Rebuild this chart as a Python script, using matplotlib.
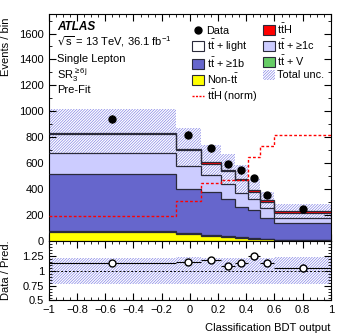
import matplotlib
matplotlib.use('Agg')
import matplotlib.pyplot as plt
import numpy as np
from matplotlib.patches import Patch
from matplotlib.lines import Line2D
from matplotlib.ticker import MultipleLocator, FuncFormatter

plt.rcParams['font.family'] = ['Liberation Sans', 'DejaVu Sans']
plt.rcParams['font.size'] = 8
plt.rcParams['hatch.linewidth'] = 0.45
plt.rcParams['mathtext.default'] = 'regular'

# BDT bin edges
edges = [-1.0, -0.1, 0.08, 0.22, 0.32, 0.41, 0.5, 0.6, 1.0]

# pre-fit yields per bin
non_tt = [65, 55, 40, 30, 24, 18, 13, 5]
tt_v = [8, 7, 6, 5, 4, 4, 3, 3]
tt_1b = [446, 342, 332, 285, 230, 216, 163, 128]
tt_1c = [161, 174, 132, 115, 108, 84, 72, 43]
tt_light = [146, 121, 84, 103, 100, 57, 49, 38]
tt_h = [10, 12, 12, 12, 12, 12, 12, 15]
data = [941, 820, 713, 594, 543, 484, 354, 244]
tth_norm = [192, 307, 447, 473, 473, 650, 730, 815]
unc_rel = [0.22, 0.23, 0.22, 0.22, 0.22, 0.22, 0.22, 0.23]

c_yellow = '#ffff00'
c_green = '#66cc66'
c_blue = '#6666cc'
c_lav = '#ccccff'
c_red = '#ff0000'
c_hatch = '#7c7ce4'
c_edge = '#2a2a3a'
hatch = '/' * 12
tt = r'$\mathregular{t\bar{t}}$'

edges = np.array(edges)
centers = 0.5 * (edges[1:] + edges[:-1])
halfw = 0.5 * (edges[1:] - edges[:-1])

fig = plt.figure(figsize=(3.49, 3.35), dpi=100)
ax = fig.add_axes([0.140, 0.281, 0.808, 0.677])
rax = fig.add_axes([0.140, 0.103, 0.808, 0.178])

# stacked backgrounds
layers = [(non_tt, c_yellow), (tt_v, c_green), (tt_1b, c_blue),
          (tt_1c, c_lav), (tt_light, 'none'), (tt_h, c_red)]
bottom = np.zeros(len(data))
for vals, col in layers:
    top = bottom + np.array(vals)
    if col != 'none':
        ax.stairs(top, edges, baseline=bottom, fill=True, facecolor=col,
                  edgecolor='none', zorder=2)
    ax.stairs(top, edges, baseline=None, color=c_edge, lw=0.9, zorder=3)
    bottom = top
total = bottom

# uncertainty band, behind the stack so it only shows through tt+light
ax.stairs(total * (1 + np.array(unc_rel)), edges,
          baseline=total * (1 - np.array(unc_rel)), fill=True,
          facecolor='none', edgecolor=c_hatch, hatch=hatch, lw=0, zorder=1)

ax.stairs(tth_norm, edges, baseline=None, color=c_red, lw=1.0,
          ls=(0, (2, 1.5)), zorder=4)

data = np.array(data)
ax.errorbar(centers, data, yerr=np.sqrt(data), fmt='o', color='k', ms=5,
            lw=0.8, zorder=5)

ax.set_xlim(-1, 1)
ax.set_ylim(0, 1750)
ax.yaxis.set_major_locator(MultipleLocator(200))
ax.yaxis.set_minor_locator(MultipleLocator(100))
ax.xaxis.set_major_locator(MultipleLocator(0.2))
ax.xaxis.set_minor_locator(MultipleLocator(0.05))
ax.tick_params(which='both', direction='in', top=True, right=True,
               labelbottom=False)
ax.tick_params(which='major', length=5)
ax.tick_params(which='minor', length=2.5)
ax.set_ylabel('Events / bin', loc='top')
ax.yaxis.set_label_coords(-0.135, 0.985)

ax.text(0.028, 0.943, 'ATLAS', transform=ax.transAxes, fontweight='bold',
        fontstyle='italic', va='center', fontsize=8.5)
ax.text(0.028, 0.877, r'$\sqrt{s}$ = 13 TeV, 36.1 fb$^{-1}$',
        transform=ax.transAxes, va='center')
ax.text(0.028, 0.802, 'Single Lepton', transform=ax.transAxes, va='center')
ax.text(0.028, 0.731, r'SR$_{3}^{\geq 6j}$', transform=ax.transAxes,
        va='center')
ax.text(0.028, 0.665, 'Pre-Fit', transform=ax.transAxes, va='center')

handles = [
    Line2D([], [], marker='o', color='k', ls='none', ms=5),
    Patch(facecolor='white', edgecolor=c_edge, lw=0.8),
    Patch(facecolor=c_blue, edgecolor=c_edge, lw=0.8),
    Patch(facecolor=c_yellow, edgecolor=c_edge, lw=0.8),
    Line2D([], [], color=c_red, lw=1.0, ls=(0, (1.5, 1))),
    Patch(facecolor=c_red, edgecolor=c_edge, lw=0.8),
    Patch(facecolor=c_lav, edgecolor=c_edge, lw=0.8),
    Patch(facecolor=c_green, edgecolor=c_edge, lw=0.8),
    Patch(facecolor='none', edgecolor=c_hatch, hatch=hatch, lw=0),
]
labels = ['Data', tt + ' + light', tt + ' + \u22651b', 'Non-' + tt,
          r'$\mathregular{t\bar{t}H}$ (norm)', r'$\mathregular{t\bar{t}H}$',
          tt + ' + \u22651c', tt + ' + V', 'Total unc.']
ax.legend(handles, labels, ncol=2, loc='upper left',
          bbox_to_anchor=(0.49, 0.99), frameon=False, borderpad=0,
          handlelength=1.1, handleheight=1.0, handletextpad=0.2,
          columnspacing=0.6, labelspacing=0.18, fontsize=7.8)

# ratio panel
rax.stairs(1 + np.array(unc_rel), edges, baseline=1 - np.array(unc_rel),
           fill=True, facecolor='none', edgecolor=c_hatch, hatch=hatch,
           lw=0, zorder=1)
rax.axhline(1, color='k', ls=(0, (2, 2)), lw=0.7, zorder=2)
ratio = data / total
rax.errorbar(centers, ratio, xerr=halfw, yerr=np.sqrt(data) / total,
             fmt='o', mfc='white', mec='k', color='k', ms=5, lw=0.8,
             zorder=3)
rax.set_xlim(-1, 1)
rax.set_ylim(0.5, 1.5)
rax.set_yticks([0.5, 0.75, 1.0, 1.25])
rax.yaxis.set_major_formatter(FuncFormatter(lambda v, p: '%g' % v))
rax.yaxis.set_minor_locator(MultipleLocator(0.05))
rax.xaxis.set_major_locator(MultipleLocator(0.2))
rax.xaxis.set_minor_locator(MultipleLocator(0.05))
rax.xaxis.set_major_formatter(
    FuncFormatter(lambda v, p: ('%g' % round(v, 2)).replace('-', '\u2212')))
rax.tick_params(which='both', direction='in', top=True, right=True)
rax.tick_params(which='major', length=5)
rax.tick_params(which='minor', length=2.5)
rax.set_ylabel('Data / Pred.')
rax.yaxis.set_label_coords(-0.135, 0.5)
rax.set_xlabel('Classification BDT output', loc='right')
rax.xaxis.set_label_coords(1.0, -0.37)

fig.savefig('out.png', dpi=100)
